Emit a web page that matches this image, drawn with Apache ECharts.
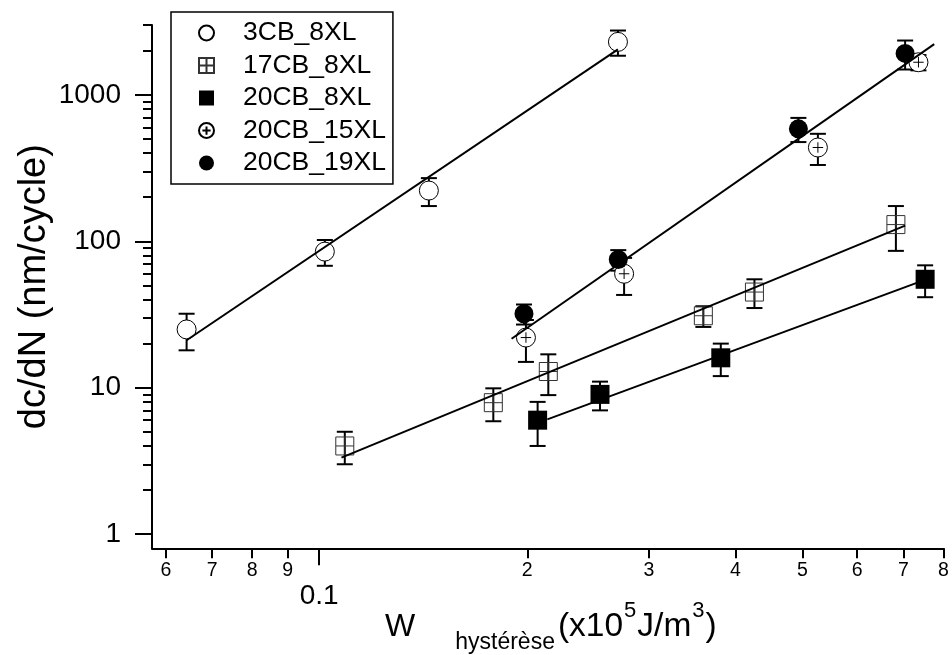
<!DOCTYPE html>
<html>
<head>
<meta charset="utf-8">
<script src="https://cdn.jsdelivr.net/npm/echarts@6/dist/echarts.min.js"></script>
<style>
html,body{margin:0;padding:0;background:#fff;}
#chart{width:952px;height:655px;}
</style>
</head>
<body>
<div id="chart"></div>
<script>
// ---- data ----
const seriesNames = ['3CB_8XL', '17CB_8XL', '20CB_8XL', '20CB_15XL', '20CB_19XL'];

const x3CB_8XL = [0.0643, 0.1019, 0.1441, 0.2705];
const y3CB_8XL = [25, 85, 222, 2300];
const e3CB_8XL = [7, 17, 48, 450];

const x17CB_8XL = [0.1089, 0.1786, 0.2145, 0.3595, 0.4262, 0.6827];
const y17CB_8XL = [4.0, 7.9, 12.9, 31, 45, 130];
const e17CB_8XL = [1, 2, 4, 5, 10, 44];

const x20CB_8XL = [0.207, 0.2548, 0.381, 0.7525];
const y20CB_8XL = [6, 9, 16, 55];
const e20CB_8XL = [2, 2, 4, 13.5];

const x20CB_15XL = [0.1991, 0.2761, 0.5265, 0.736];
const y20CB_15XL = [22, 60, 437, 1670];
const e20CB_15XL = [7, 17, 105, 200];

const x20CB_19XL = [0.1978, 0.2708, 0.4934, 0.704];
const y20CB_19XL = [32, 75, 586, 1920];
const e20CB_19XL = [5, 12, 110, 430];

// fitted power-law lines (end points)
const fit3CB_8XL_x = [0.0643, 0.2705];
const fit3CB_8XL_y = [21.1, 2047];
const fit17CB_8XL_x = [0.1077, 0.704];
const fit17CB_8XL_y = [3.33, 127.8];
const fit20CB_8XL_x = [0.2138, 0.7318];
const fit20CB_8XL_y = [6.08, 52];
const fit20CB_19XL_x = [0.1898, 0.7757];
const fit20CB_19XL_y = [21.6, 2223];

// axes
const xMin = 0.0573, xMax = 0.8;
const yMin = 0.8, yMax = 3000;
const xTicksMinor = [0.06, 0.07, 0.08, 0.09, 0.2, 0.3, 0.4, 0.5, 0.6, 0.7, 0.8];
const xTickLabelsMinor = ['6', '7', '8', '9', '2', '3', '4', '5', '6', '7', '8'];
const xTicksMajor = [0.1];
const xTickLabelsMajor = ['0.1'];
const yTicksMajor = [1, 10, 100, 1000];
const yTickLabelsMajor = ['1', '10', '100', '1000'];
const yTicksMinor = [2, 3, 4, 5, 6, 7, 8, 9, 20, 30, 40, 50, 60, 70, 80, 90,
  200, 300, 400, 500, 600, 700, 800, 900, 2000, 3000];

const yTitle = 'dc/dN (nm/cycle)';
const xTitleMain = 'W';
const xTitleSub = 'hystérèse';
const xTitleUnit = ['(x10', '5', 'J/m', '3', ')'];

// ---- build ----
const FONT = '"Liberation Sans", Arial, Helvetica, sans-serif';
function zip(xs, ys) { return xs.map((x, i) => [x, ys[i]]); }
function zip3(xs, ys, es) { return xs.map((x, i) => [x, ys[i], es[i]]); }
function lookup(ticks, labels) {
  return function (v) {
    for (let i = 0; i < ticks.length; i++) {
      if (Math.abs(v - ticks[i]) <= ticks[i] * 1e-6) return labels[i];
    }
    return '';
  };
}

const crossSquare = 'path://M0,0L20,0L20,20L0,20Z M10,0L10,20 M0,10L20,10';
const circlePlus = 'path://M0,10A10,10,0,1,1,20,10A10,10,0,1,1,0,10Z M10,4.5L10,15.5 M4.5,10L15.5,10';

const groups = [
  { name: seriesNames[0], x: x3CB_8XL, y: y3CB_8XL, e: e3CB_8XL, symbol: 'circle', size: 19,
    style: { color: '#fff', borderColor: '#000', borderWidth: 1 } },
  { name: seriesNames[1], x: x17CB_8XL, y: y17CB_8XL, e: e17CB_8XL, symbol: crossSquare, size: 18,
    style: { color: 'rgba(255,255,255,0)', borderColor: '#333', borderWidth: 1 } },
  { name: seriesNames[2], x: x20CB_8XL, y: y20CB_8XL, e: e20CB_8XL, symbol: 'rect', size: 19,
    style: { color: '#000', borderColor: '#000', borderWidth: 0 } },
  { name: seriesNames[3], x: x20CB_15XL, y: y20CB_15XL, e: e20CB_15XL, symbol: circlePlus, size: 19,
    style: { color: '#fff', borderColor: '#000', borderWidth: 1 } },
  { name: seriesNames[4], x: x20CB_19XL, y: y20CB_19XL, e: e20CB_19XL, symbol: 'circle', size: 19,
    style: { color: '#000', borderColor: '#000', borderWidth: 0 } }
];
const fits = [
  [fit3CB_8XL_x, fit3CB_8XL_y],
  [fit17CB_8XL_x, fit17CB_8XL_y],
  [fit20CB_8XL_x, fit20CB_8XL_y],
  [fit20CB_19XL_x, fit20CB_19XL_y]
];

function renderErr(params, api) {
  const x = api.value(0), y = api.value(1), e = api.value(2);
  const top = api.coord([x, y + e]);
  const bot = api.coord([x, y - e]);
  const h = 8;
  const st = { stroke: '#000', lineWidth: 2 };
  return {
    type: 'group',
    children: [
      { type: 'line', shape: { x1: top[0], y1: top[1], x2: bot[0], y2: bot[1] }, style: st },
      { type: 'line', shape: { x1: top[0] - h, y1: top[1], x2: top[0] + h, y2: top[1] }, style: st },
      { type: 'line', shape: { x1: bot[0] - h, y1: bot[1], x2: bot[0] + h, y2: bot[1] }, style: st }
    ]
  };
}

const series = [];
groups.forEach((g) => {
  series.push({
    type: 'custom', name: g.name + '_err', xAxisIndex: 0, yAxisIndex: 0, z: 2,
    renderItem: renderErr, data: zip3(g.x, g.y, g.e), encode: { x: 0, y: 1 }, silent: true
  });
});
groups.forEach((g) => {
  series.push({
    type: 'scatter', name: g.name, xAxisIndex: 0, yAxisIndex: 0, z: 3,
    symbol: g.symbol, symbolSize: g.size, itemStyle: Object.assign({ opacity: 1 }, g.style),
    data: zip(g.x, g.y), silent: true
  });
});
fits.forEach((f, i) => {
  series.push({
    type: 'line', name: 'fit' + i, xAxisIndex: 0, yAxisIndex: 0, z: 4,
    showSymbol: false, symbol: 'none', silent: true,
    lineStyle: { color: '#000', width: 2 },
    data: zip(f[0], f[1])
  });
});

const axisLineStyle = { color: '#000', width: 2 };

const option = {
  animation: false,
  backgroundColor: '#fff',
  grid: { left: 152, right: 8.5, top: 25, bottom: 106.7, containLabel: false, outerBoundsMode: 'none' },
  legend: {
    data: seriesNames,
    orient: 'vertical',
    left: 171, top: 12,
    padding: [7, 7, 7, 27],
    itemWidth: 15, itemHeight: 15, itemGap: 4.5,
    borderColor: '#000', borderWidth: 1.5, backgroundColor: '#fff',
    selectedMode: false,
    textStyle: { fontFamily: FONT, fontSize: 26.5, color: '#000', lineHeight: 28, padding: [0, 0, 0, 24] },
    z: 10
  },
  xAxis: [
    {
      type: 'log', logBase: 10, min: xMin, max: xMax, position: 'bottom',
      axisLine: { show: true, lineStyle: axisLineStyle },
      axisTick: { show: true, customValues: xTicksMinor, length: 10, lineStyle: { color: '#000', width: 2 } },
      axisLabel: { show: true, customValues: xTicksMinor, formatter: lookup(xTicksMinor, xTickLabelsMinor),
        fontFamily: FONT, fontSize: 19.5, color: '#000', margin: 12 },
      splitLine: { show: false }, minorTick: { show: false }
    },
    {
      type: 'log', logBase: 10, min: xMin, max: xMax, position: 'bottom',
      axisLine: { show: false },
      axisTick: { show: true, customValues: xTicksMajor, length: 17, lineStyle: { color: '#000', width: 2 } },
      axisLabel: { show: true, customValues: xTicksMajor, formatter: lookup(xTicksMajor, xTickLabelsMajor),
        fontFamily: FONT, fontSize: 28, color: '#000', margin: 34 },
      splitLine: { show: false }
    }
  ],
  yAxis: [
    {
      type: 'log', logBase: 10, min: yMin, max: yMax, position: 'left',
      axisLine: { show: true, lineStyle: axisLineStyle },
      axisTick: { show: true, customValues: yTicksMinor, length: 9, lineStyle: { color: '#000', width: 2 } },
      axisLabel: { show: false },
      splitLine: { show: false }
    },
    {
      type: 'log', logBase: 10, min: yMin, max: yMax, position: 'left',
      axisLine: { show: false },
      axisTick: { show: true, customValues: yTicksMajor, length: 17, lineStyle: { color: '#000', width: 2 } },
      axisLabel: { show: true, customValues: yTicksMajor, formatter: lookup(yTicksMajor, yTickLabelsMajor),
        fontFamily: FONT, fontSize: 28, color: '#000', margin: 31 },
      splitLine: { show: false },
      name: yTitle, nameLocation: 'middle', nameGap: 98, nameMoveOverlap: false,
      nameTextStyle: { fontFamily: FONT, fontSize: 38, color: '#000' }
    }
  ],
  graphic: [{
    type: 'text', x: 385, y: 627, z: 20,
    style: {
      text: '{w|' + xTitleMain + '}{sub|' + xTitleSub + '}{m|' + xTitleUnit[0] + '}{sup|' + xTitleUnit[1] +
        '}{m|' + xTitleUnit[2] + '}{sup|' + xTitleUnit[3] + '}{m|' + xTitleUnit[4] + '}',
      align: 'left', verticalAlign: 'middle', fill: '#000', fontFamily: FONT,
      rich: {
        w: { fontFamily: FONT, fontSize: 32, lineHeight: 55, verticalAlign: 'middle', fill: '#000' },
        m: { fontFamily: FONT, fontSize: 33.5, lineHeight: 55, verticalAlign: 'middle', fill: '#000' },
        sub: { fontFamily: FONT, fontSize: 23, lineHeight: 23, verticalAlign: 'bottom', fill: '#000', padding: [0, 3, 0, 40] },
        sup: { fontFamily: FONT, fontSize: 22, lineHeight: 22, verticalAlign: 'top', fill: '#000', padding: [0, 1, 0, 1] }
      }
    }
  }],
  series: series
};

const chart = echarts.init(document.getElementById('chart'), null, { renderer: 'canvas' });
chart.setOption(option);
</script>
</body>
</html>
